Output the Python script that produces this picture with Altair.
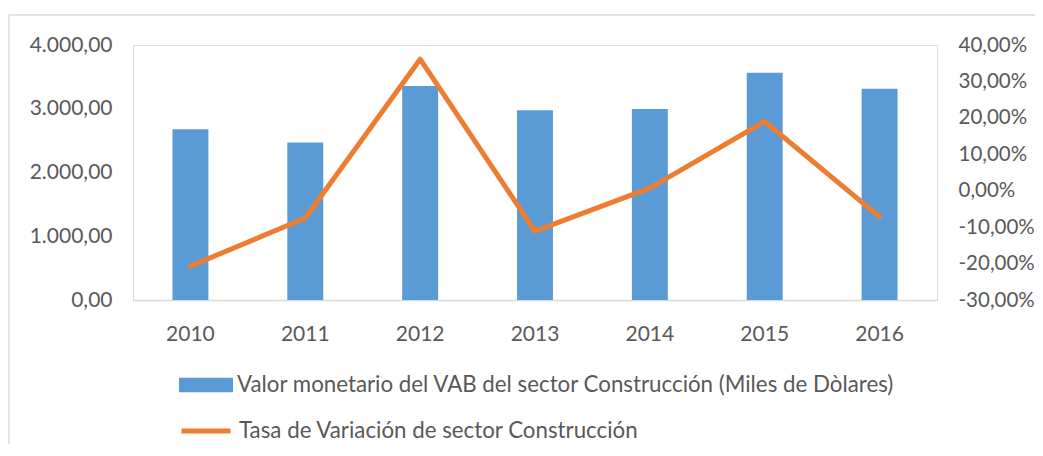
import altair as alt
import pandas as pd

years = ["2010", "2011", "2012", "2013", "2014", "2015", "2016"]
valor = [2679, 2470, 3357, 2977, 2997, 3565, 3315]
tasa = [-20.7, -7.5, 36.1, -11.1, 0.7, 19.0, -7.2]

serie_bar = "Valor monetario del VAB del sector Construcción (Miles de Dòlares)"
serie_line = "Tasa de Variación de sector Construcción"

BLUE = "#5B9BD5"
ORANGE = "#ED7D31"
GRAY = "#595959"
FONT = "Lato"
FS = 21
LFS = 22.3

df = pd.DataFrame({"year": years, "valor": valor, "tasa": tasa})
df["s1"] = serie_bar
df["s2"] = serie_line
base = alt.Chart(df)

xenc = alt.X(
    "year:N",
    title=None,
    sort=years,
    scale=alt.Scale(paddingInner=0.687, paddingOuter=0.3435),
    axis=alt.Axis(
        labelAngle=0, ticks=False, domainColor="#D9D9D9", domainWidth=1.5,
        labelPadding=23, labelFont=FONT, labelFontSize=FS, labelColor=GRAY, grid=False,
    ),
)

left_fmt = ("replace(replace(replace(format(datum.value, ',.2f'), ',', '#'), '.', ','), '#', '.')")
right_fmt = ("(datum.value < 0 ? '-' : '') + replace(format(abs(datum.value), '.2f'), '.', ',') + '%'")

bars = base.mark_bar().encode(
    x=xenc,
    y=alt.Y(
        "valor:Q", title=None,
        scale=alt.Scale(domain=[0, 4000], nice=False),
        axis=alt.Axis(
            orient="left", values=[0, 1000, 2000, 3000, 4000], labelExpr=left_fmt,
            ticks=False, domain=False, grid=False, labelPadding=21,
            labelFont=FONT, labelFontSize=FS, labelColor=GRAY,
        ),
    ),
    fill=alt.Fill(
        "s1:N",
        scale=alt.Scale(domain=[serie_bar], range=[BLUE]),
        legend=alt.Legend(
            title=None, orient="none", legendX=46, legendY=313, padding=0,
            symbolType="M-1,-0.27L1,-0.27L1,0.27L-1,0.27Z", symbolSize=2916,
            symbolStrokeWidth=0, labelOffset=4, symbolOpacity=1,
            labelFont=FONT, labelFontSize=LFS, labelColor=GRAY, labelLimit=1000,
        ),
    ),
)

line = base.mark_line(strokeWidth=5, strokeCap="round", strokeJoin="round").encode(
    x=xenc,
    y=alt.Y(
        "tasa:Q", title=None,
        scale=alt.Scale(domain=[-30, 40], nice=False),
        axis=alt.Axis(
            orient="right", values=[-30, -20, -10, 0, 10, 20, 30, 40], labelExpr=right_fmt,
            ticks=False, domain=False, grid=False, labelPadding=21,
            labelFont=FONT, labelFontSize=20.5, labelColor=GRAY,
        ),
    ),
    stroke=alt.Stroke(
        "s2:N",
        scale=alt.Scale(domain=[serie_line], range=[ORANGE]),
        legend=alt.Legend(
            title=None, orient="none", legendX=46, legendY=359, padding=0,
            symbolType="stroke", symbolSize=2401, symbolStrokeWidth=5, labelOffset=6,
            labelFont=FONT, labelFontSize=LFS, labelColor=GRAY, labelLimit=1000,
        ),
    ),
)

frame_df = pd.DataFrame({"k": [0]})
frame_top = alt.Chart(frame_df).mark_rule(stroke="#D9D9D9", strokeWidth=1.5).encode(
    x=alt.value(-124), x2=alt.value(1100), y=alt.value(-30)
)
frame_left = alt.Chart(frame_df).mark_rule(stroke="#D9D9D9", strokeWidth=1.5).encode(
    x=alt.value(-124), y=alt.value(-30), y2=alt.value(600)
)

chart = alt.layer(frame_top, frame_left, bars, line).resolve_scale(
    y="independent", fill="independent", stroke="independent"
).properties(
    width=804, height=255,
    autosize=alt.AutoSizeParams(type="none"),
    padding={"left": 125, "top": 37, "right": 98, "bottom": 144},
).configure_view(stroke=None).configure(background="white")

chart.save("out.html", embed_options={"renderer": "svg", "actions": False})
